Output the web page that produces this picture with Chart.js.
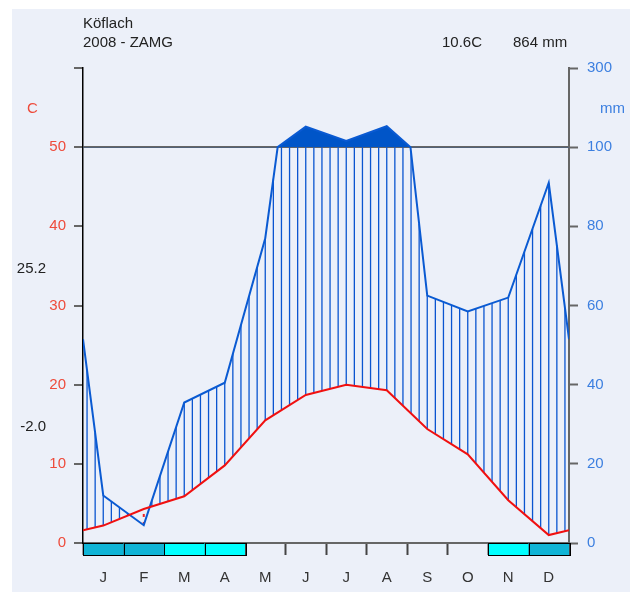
<!DOCTYPE html>
<html>
<head>
<meta charset="utf-8">
<script src="https://cdn.jsdelivr.net/npm/chart.js@4.4.1/dist/chart.umd.min.js"></script>
<style>
  body { margin: 0; background: #fff; }
  canvas { display: block; }
</style>
</head>
<body>
<canvas id="chart" width="638" height="592"></canvas>
<script>
// Walter-Lieth climate diagram, Köflach 2008
const months = ['J', 'F', 'M', 'A', 'M', 'J', 'J', 'A', 'S', 'O', 'N', 'D'];
const tempC = [2.2, 4.3, 5.9, 9.8, 15.5, 18.7, 20.0, 19.3, 14.4, 11.2, 5.4, 1.0];
const precipMm = [12, 4.5, 35.5, 40.5, 77, 152, 116, 153, 62.5, 58.5, 62, 91];
const frost = [2, 2, 1, 1, 0, 0, 0, 0, 0, 0, 1, 2]; // 2 = sure frost, 1 = possible frost
const tempTicks = [0, 10, 20, 30, 40, 50, 60];
const precipTicks = [0, 20, 40, 60, 80, 100, 300];
const station = 'Köflach';
const source = '2008 - ZAMG';
const meanTemp = '10.6C';
const sumPrecip = '864 mm';
const maxWarm = '25.2';
const minCold = '-2.0';

Chart.defaults.font.family = '"Liberation Sans", Arial, sans-serif';
Chart.defaults.font.size = 15;

// precipitation axis: 0-100 mm linear (2 mm per degree), above 100 compressed to 300
const SPLIT_MM = 100, SPLIT_FRAC = 50 / 60;
function mmToDecimal(v) {
    if (v <= SPLIT_MM) return v / SPLIT_MM * SPLIT_FRAC;
    return SPLIT_FRAC + (v - SPLIT_MM) / 200 * (1 - SPLIT_FRAC);
}
class WalterScale extends Chart.LinearScale {
    getPixelForValue(v) {
        return this.getPixelForDecimal(mmToDecimal(v));
    }
    getValueForPixel(p) {
        const d = this.getDecimalForPixel(p);
        if (d <= SPLIT_FRAC) return d / SPLIT_FRAC * SPLIT_MM;
        return SPLIT_MM + (d - SPLIT_FRAC) / (1 - SPLIT_FRAC) * 200;
    }
}
WalterScale.id = 'walter';
WalterScale.defaults = {};
Chart.register(WalterScale);

// month centres plus both edges (mean of Dec and Jan)
function monthPoints(vals) {
    const edge = (vals[0] + vals[11]) / 2;
    const pts = [{x: 0, y: edge}];
    vals.forEach((v, i) => pts.push({x: i + 0.5, y: v}));
    pts.push({x: 12, y: edge});
    return pts;
}
// add the points where the line passes the 100 mm level
function withCrossings(pts, level) {
    const out = [pts[0]];
    for (let i = 1; i < pts.length; i++) {
        const a = pts[i - 1], b = pts[i];
        if ((a.y - level) * (b.y - level) < 0) {
            const t = (level - a.y) / (b.y - a.y);
            out.push({x: a.x + t * (b.x - a.x), y: level});
        }
        out.push(b);
    }
    return out;
}
const tempPts = monthPoints(tempC);
const precipPts = withCrossings(monthPoints(precipMm), SPLIT_MM);

function pixelAt(pts, scale, xv) {
    for (let i = 1; i < pts.length; i++) {
        if (xv <= pts[i].x) {
            const a = pts[i - 1], b = pts[i];
            const t = (xv - a.x) / (b.x - a.x);
            const ya = scale.getPixelForValue(a.y), yb = scale.getPixelForValue(b.y);
            return ya + t * (yb - ya);
        }
    }
}

const panel = {
    id: 'panel',
    beforeDraw(chart) {
        const ctx = chart.ctx;
        ctx.save();
        ctx.fillStyle = '#fff';
        ctx.fillRect(0, 0, chart.width, chart.height);
        ctx.fillStyle = '#ECF0F9';
        ctx.fillRect(12, 9, 618, chart.height - 9);
        ctx.restore();
    }
};

// humid period hatching and dry period dots
const hatch = {
    id: 'hatch',
    beforeDatasetsDraw(chart) {
        const {ctx, scales: {x, y, y2}} = chart;
        const cap = y2.getPixelForValue(SPLIT_MM);
        ctx.save();
        for (let k = 0; k < 60; k++) {
            const xv = (k + 0.5) / 5;
            const px = x.getPixelForValue(xv);
            const ty = pixelAt(tempPts, y, xv);
            const py = pixelAt(precipPts, y2, xv);
            if (py < ty) {
                ctx.strokeStyle = '#0B55D0';
                ctx.lineWidth = 1.3;
                ctx.beginPath();
                ctx.moveTo(px, ty);
                ctx.lineTo(px, Math.max(py, cap));
                ctx.stroke();
            } else {
                ctx.fillStyle = '#EE2222';
                for (let yy = ty + 6; yy < py - 2; yy += 8) {
                    ctx.fillRect(px - 1, yy - 1, 2, 3);
                }
            }
        }
        ctx.restore();
    }
};

const frostBars = {
    id: 'frostBars',
    afterDraw(chart) {
        const {ctx, scales: {x}, chartArea} = chart;
        ctx.save();
        ctx.lineWidth = 1;
        ctx.strokeStyle = '#000';
        frost.forEach((f, i) => {
            if (!f) return;
            const x0 = x.getPixelForValue(i), x1 = x.getPixelForValue(i + 1);
            ctx.fillStyle = f === 2 ? '#10B4D6' : '#00FFFF';
            ctx.fillRect(x0, chartArea.bottom, x1 - x0, 12);
            ctx.strokeRect(Math.round(x0) + 0.5, chartArea.bottom + 0.5, Math.round(x1 - x0), 12);
        });
        ctx.restore();
    }
};

const labels = {
    id: 'labels',
    afterDraw(chart) {
        const ctx = chart.ctx;
        const items = [
            {t: station, x: 83, y: 28, c: '#222', a: 'left'},
            {t: source, x: 83, y: 47, c: '#222', a: 'left'},
            {t: meanTemp, x: 442, y: 47, c: '#222', a: 'left'},
            {t: sumPrecip, x: 513, y: 47, c: '#222', a: 'left'},
            {t: 'C', x: 27, y: 113, c: '#EE4B3B', a: 'left'},
            {t: 'mm', x: 600, y: 113, c: '#3C7FE0', a: 'left'},
            {t: maxWarm, x: 46, y: 273, c: '#222', a: 'right'},
            {t: minCold, x: 46, y: 431, c: '#222', a: 'right'}
        ];
        ctx.save();
        ctx.font = '15px "Liberation Sans", Arial, sans-serif';
        ctx.textBaseline = 'alphabetic';
        items.forEach(it => {
            ctx.fillStyle = it.c;
            ctx.textAlign = it.a;
            ctx.fillText(it.t, it.x, it.y);
        });
        ctx.restore();
    }
};

new Chart(document.getElementById('chart'), {
    type: 'line',
    data: {
        datasets: [
            {
                data: tempPts,
                yAxisID: 'y',
                borderColor: '#F01010',
                borderWidth: 2,
                pointRadius: 0,
                tension: 0
            },
            {
                data: precipPts,
                yAxisID: 'y2',
                borderColor: '#0A5AD2',
                borderWidth: 2,
                pointRadius: 0,
                tension: 0,
                fill: {target: {value: SPLIT_MM}, above: '#0055C8', below: 'rgba(0,0,0,0)'}
            }
        ]
    },
    options: {
        responsive: false,
        animation: false,
        layout: {padding: {top: 68, left: 0, right: 0, bottom: 0}},
        plugins: {legend: {display: false}, tooltip: {enabled: false}},
        scales: {
            x: {
                type: 'linear',
                min: 0,
                max: 12,
                afterBuildTicks: s => { s.ticks = Array.from({length: 25}, (_, i) => ({value: i / 2})); },
                afterFit: s => { s.height = 49; },
                ticks: {
                    autoSkip: false,
                    maxRotation: 0,
                    padding: 14,
                    color: '#333',
                    callback: v => (v % 1 ? months[Math.floor(v)] : '')
                },
                grid: {
                    drawOnChartArea: false,
                    tickLength: 12,
                    tickWidth: 2,
                    tickColor: c => (c.tick && c.tick.value % 1 === 0 ? '#444' : 'rgba(0,0,0,0)')
                },
                border: {color: '#666', width: 2}
            },
            y: {
                position: 'left',
                min: 0,
                max: 60,
                afterBuildTicks: s => { s.ticks = tempTicks.map(v => ({value: v})); },
                afterFit: s => { s.width = 83; },
                ticks: {
                    padding: 8,
                    color: '#EE4B3B',
                    callback: v => (v === 60 ? '' : v)
                },
                grid: {
                    tickLength: 9,
                    tickWidth: 2,
                    tickColor: '#666',
                    lineWidth: 2,
                    color: c => (c.tick && c.tick.value === 50 ? '#666' : 'rgba(0,0,0,0)')
                },
                border: {color: '#000', width: 1.5}
            },
            y2: {
                type: 'walter',
                position: 'right',
                min: 0,
                max: 300,
                afterBuildTicks: s => { s.ticks = precipTicks.map(v => ({value: v})); },
                afterFit: s => { s.width = 69; },
                ticks: {padding: 9, color: '#3C7FE0'},
                grid: {drawOnChartArea: false, tickLength: 9, tickWidth: 2, tickColor: '#666'},
                border: {color: '#666', width: 2}
            }
        }
    },
    plugins: [panel, hatch, frostBars, labels]
});
</script>
</body>
</html>
